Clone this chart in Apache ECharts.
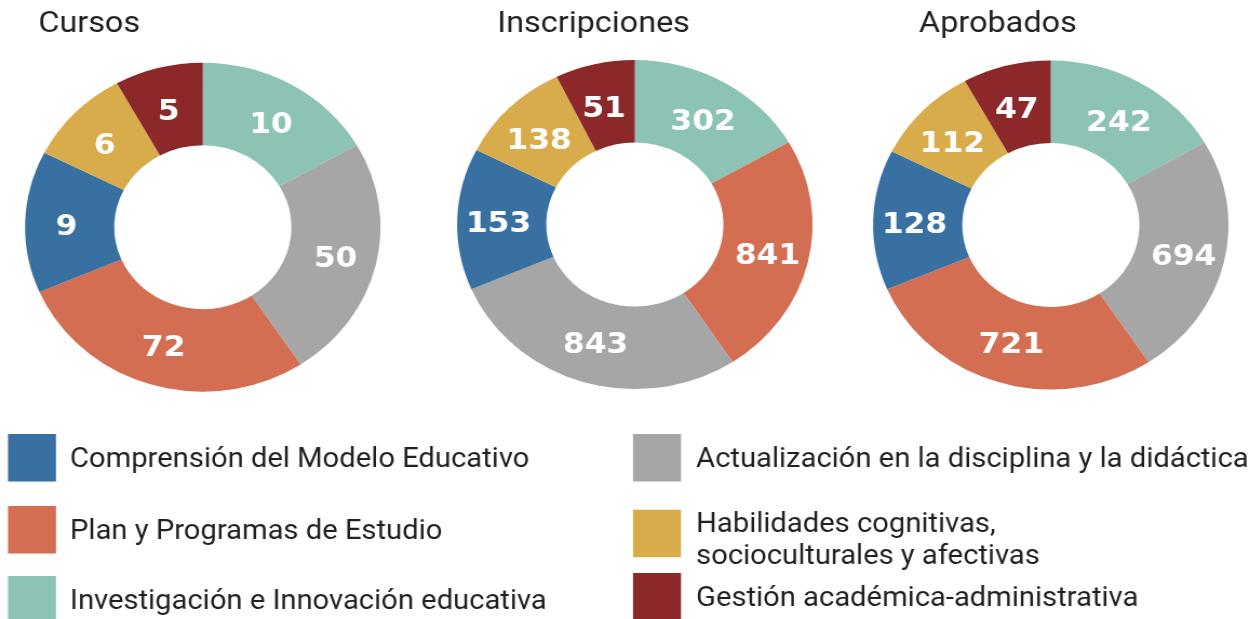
<!DOCTYPE html>
<html>
<head>
<meta charset="utf-8">
<script src="https://cdn.jsdelivr.net/npm/echarts@6.0.0/dist/echarts.min.js"></script>
<style>
  html, body { margin: 0; padding: 0; background: #fff; overflow: hidden; }
  /* the donuts in the original are a bit wider than tall, so draw narrow and stretch */
  #chart { width: 1157px; height: 619px; transform: scaleX(1.0804); transform-origin: 0 0; }
</style>
</head>
<body>
<div id="chart"></div>
<script>
var categories = [
  'Comprensión del Modelo Educativo',
  'Plan y Programas de Estudio',
  'Investigación e Innovación educativa',
  'Actualización en la disciplina y la didáctica',
  'Habilidades cognitivas,\nsocioculturales y afectivas',
  'Gestión académica-administrativa'
];
var colors = ['#3870a2', '#d46e53', '#8dc3b4', '#a6a6a6', '#d8ac4a', '#8c282a'];

// numbers printed on the slices (category order)
var cursos = [9, 72, 10, 50, 6, 5];
var inscripciones = [153, 841, 302, 843, 138, 51];
var aprobados = [128, 721, 242, 694, 112, 47];

// slice sizes as drawn (degrees, category order) - not proportional to the numbers
var cursosArc = [50.1, 100.2, 60, 86.6, 34.2, 28.9];
var inscripcionesArc = [50.1, 86.6, 60, 100.3, 36.9, 26.1];
var aprobadosArc = [49.5, 100.4, 59.9, 86.7, 34.6, 28.9];

// clockwise order from 12 o'clock
var cursosOrder = [2, 3, 1, 0, 4, 5];
var inscripcionesOrder = [2, 1, 3, 0, 4, 5];
var aprobadosOrder = [2, 3, 1, 0, 4, 5];

var titles = ['Cursos', 'Inscripciones', 'Aprobados'];
var centers = [[187.7, 227.2], [587.6, 224.6], [972.6, 225]];

function donut(name, values, arcs, order, center) {
  return {
    name: name,
    type: 'pie',
    center: center,
    radius: [82, 164.5],
    startAngle: 90,
    clockwise: true,
    animation: false,
    label: {
      position: 'inside',
      formatter: function (p) { return p.data.count; },
      color: '#fff',
      fontFamily: 'DejaVu Sans',
      fontWeight: 'bold',
      fontSize: 29
    },
    // numbers on the upper half sit a little lower in the original
    labelLayout: function (p) {
      var up = (center[1] - (p.labelRect.y + p.labelRect.height / 2)) / 123;
      return { dy: 4 * (1 + up) };
    },
    labelLine: { show: false },
    emphasis: { disabled: true },
    data: order.map(function (i) {
      return { name: categories[i], value: arcs[i], count: values[i], itemStyle: { color: colors[i] } };
    })
  };
}

// legend boxes: [left, top, text indent, space above text]
var legendPos = [
  [7.4, 434, 8, 4],
  [7.4, 506, 8, 4],
  [7.4, 576, 8, 4],
  [585.9, 434, 9, 4],
  [585.9, 501, 9, 16],
  [585.9, 573, 9, 4]
];

var option = {
  backgroundColor: '#fff',
  title: [
    { text: titles[0], left: 35.4 },
    { text: titles[1], left: 460.3 },
    { text: titles[2], left: 850.6 }
  ].map(function (t) {
    t.top = 9;
    t.padding = 0;
    t.textStyle = { fontFamily: 'Roboto', fontWeight: 'normal', fontSize: 30, color: '#231f20' };
    return t;
  }),
  legend: categories.map(function (c, i) {
    return {
      data: [c],
      left: legendPos[i][0],
      top: legendPos[i][1],
      padding: 0,
      orient: 'vertical',
      icon: 'rect',
      itemWidth: 44.4,
      itemHeight: 47.5,
      selectedMode: false,
      formatter: function (name) {
        return '{gap| }\n' + name.split('\n').map(function (s) { return '{t|' + s + '}'; }).join('\n');
      },
      textStyle: {
        padding: [0, 0, 0, legendPos[i][2]],
        rich: {
          gap: { fontSize: 1, lineHeight: legendPos[i][3] },
          t: { fontFamily: 'Roboto', fontSize: 27, lineHeight: 32, color: '#231f20' }
        }
      }
    };
  }),
  series: [
    donut(titles[0], cursos, cursosArc, cursosOrder, centers[0]),
    donut(titles[1], inscripciones, inscripcionesArc, inscripcionesOrder, centers[1]),
    donut(titles[2], aprobados, aprobadosArc, aprobadosOrder, centers[2])
  ]
};

echarts.init(document.getElementById('chart')).setOption(option);
</script>
</body>
</html>
